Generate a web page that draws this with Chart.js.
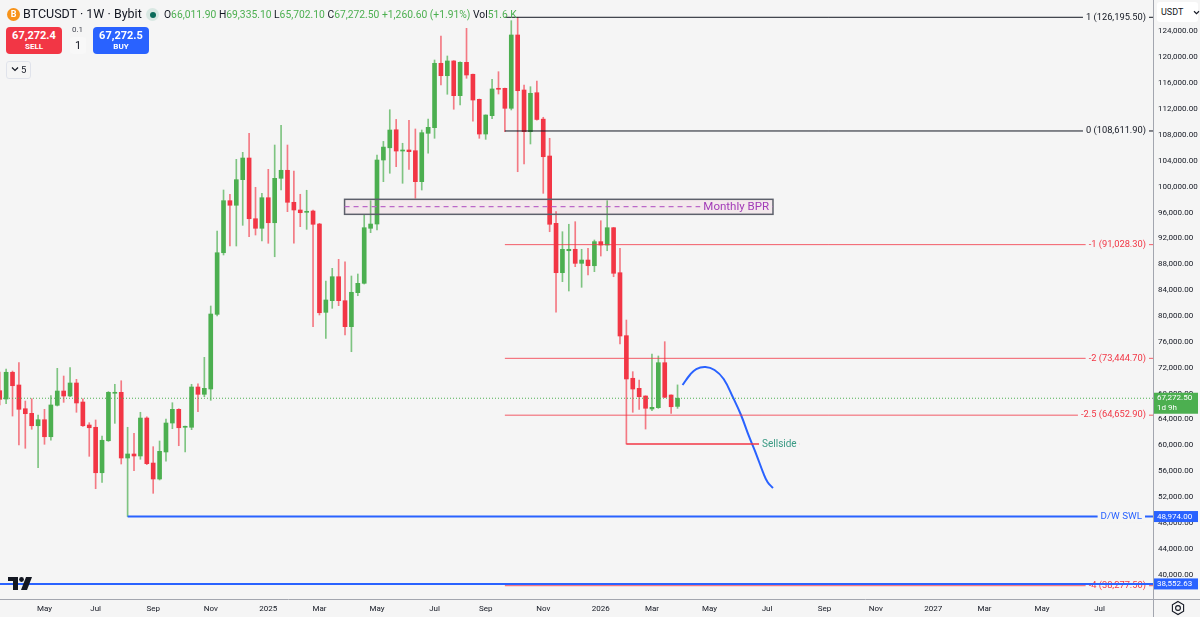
<!DOCTYPE html>
<html>
<head>
<meta charset="utf-8">
<script src="https://cdn.jsdelivr.net/npm/chart.js@4.4.1/dist/chart.umd.min.js"></script>
<style>
html, body { margin: 0; padding: 0; background: #f5f5f5; }
#wrap { position: relative; width: 1200px; height: 617px; font-family: Roboto, "Noto Sans", sans-serif; color: #131722; overflow: hidden; }
#c { position: absolute; left: 0; top: 0; }
.abs { position: absolute; white-space: nowrap; }
.coin { left: 7px; top: 8px; width: 13px; height: 13px; border-radius: 50%; background: #f7931a; color: #fff; font: bold 9px Roboto; text-align: center; line-height: 13px; }
.sym { left: 23px; top: 6px; font-size: 12.5px; }
.live { left: 146px; top: 8px; width: 13px; height: 13px; border-radius: 50%; background: #d9e8e3; }
.live i { position: absolute; left: 3.5px; top: 3.5px; width: 6px; height: 6px; border-radius: 50%; background: #0b6b5a; }
.ohlc { left: 164px; top: 8px; font-size: 10.3px; }
.ohlc b { font-weight: normal; color: #4caf50; }
.btn { top: 27px; width: 56px; height: 27px; border-radius: 4px; color: #fff; text-align: center; font-weight: bold; }
.btn .p { font-size: 11px; margin-top: 3px; line-height: 12px; }
.btn .s { font-size: 8px; line-height: 10px; }
.qty1 { left: 72px; top: 25px; font-size: 8px; color: #434651; }
.qty { left: 70px; top: 37px; width: 16px; height: 17px; border-radius: 3px; background: #f8f8f8; text-align: center; font-size: 11px; line-height: 17px; }
.grp { left: 6px; top: 61px; width: 23px; height: 16px; border: 1px solid #e0e3eb; border-radius: 3px; font-size: 9.5px; line-height: 16px; }
.cur { left: 1157px; top: 2px; width: 41px; height: 20px; background: #fff; border-radius: 3px; font-size: 9px; line-height: 20px; }
</style>
</head>
<body>
<div id="wrap">
  <canvas id="c" width="1200" height="617"></canvas>
  <div class="abs coin">B</div>
  <div class="abs sym">BTCUSDT · 1W · Bybit</div>
  <div class="abs live"><i></i></div>
  <div class="abs ohlc">O<b>66,011.90</b> H<b>69,335.10</b> L<b>65,702.10</b> C<b>67,272.50</b> <b>+1,260.60 (+1.91%)</b> Vol<b>51.6 K</b></div>
  <div class="abs btn" style="left:6px;background:#f23645"><div class="p">67,272.4</div><div class="s">SELL</div></div>
  <div class="abs qty1">0.1</div>
  <div class="abs qty">1</div>
  <div class="abs btn" style="left:93px;background:#2962ff"><div class="p">67,272.5</div><div class="s">BUY</div></div>
  <div class="abs grp"><svg width="8" height="6" style="margin:0 2px 1px 4px" viewBox="0 0 8 6"><path d="M1 1.5 L4 4.5 L7 1.5" fill="none" stroke="#131722" stroke-width="1.2"/></svg>5</div>
  <div class="abs cur"><span style="margin-left:4px">USDT</span><svg width="7" height="5" style="margin-left:10px" viewBox="0 0 8 6"><path d="M1 1.5 L4 4.5 L7 1.5" fill="none" stroke="#131722" stroke-width="1.3"/></svg></div>
  <svg class="abs" style="left:1170px;top:600px" width="16" height="16" viewBox="0 0 16 16"><path d="M8 1.5 L13.6 4.75 L13.6 11.25 L8 14.5 L2.4 11.25 L2.4 4.75 Z" fill="none" stroke="#131722" stroke-width="1.1"/><circle cx="8" cy="8" r="2.4" fill="none" stroke="#131722" stroke-width="1.1"/></svg>
</div>
<script>
// weekly candles, first week starts Monday 2024-03-18
const firstWeek = '2024-03-18';
const opens = [68440,67150,71290,69320,65650,64940,63020,63950,61320,66180,
  68390,67620,69630,66690,63130,62780,55750,60700,68040,68190,
  58030,58650,58340,64210,57250,54780,58960,63440,65560,62780,
  62780,69010,67880,68700,80250,89780,97830,97120,101080,104430,
  95040,93560,98290,94420,101290,102530,97580,96390,96030,96230,
  94220,80560,82360,86070,82360,78340,83600,85050,93560,94220,
  104120,106010,108800,105510,105670,105560,100770,108250,109120,119080,
  117160,119440,114070,119230,117380,113510,108140,110980,115210,115210,
  112120,123460,114950,108500,114530,110440,104740,94330,86690,90090,
  90310,88140,88650,87770,91490,90970,93650,86690,76950,70360,
  68810,67620,65610,65810,72770,67770,66011.9];
const highs = [71330,71790,71480,72770,66840,67200,64680,65560,67670,71900,
  70710,72000,70200,67200,63490,63910,61430,68300,69430,69980,
  62780,61850,65100,64400,59780,60660,64060,66580,65650,62980,
  69430,69520,73600,81540,93140,99480,98820,104230,105310,108250,
  99900,98970,102680,106440,109500,106440,102420,98820,99440,96390,
  94330,85410,87370,88760,88390,86180,86490,95610,97830,104900,
  107000,111900,110400,106710,110250,108920,108760,110440,119590,123300,
  120210,119500,119300,124490,117400,113550,111100,116610,117780,115250,
  125670,126195.5,115720,115460,116340,110730,107480,96130,93030,94180,
  94580,90310,90460,91750,94730,97830,93700,90460,79370,71380,
  70090,67650,74120,73810,76020,67800,69335.1];
const lows = [66230,66430,64520,60040,59530,62470,56530,60150,60770,66070,
  66640,67510,65100,62900,58290,53280,54270,60600,63390,57100,
  48974,56060,57830,57000,52570,54630,57520,62560,59930,58960,
  62410,65190,67510,66950,79990,89430,90820,90820,94020,92260,
  92520,91590,91240,89160,99480,96130,91240,93810,93400,78340,
  80150,76540,81180,81590,77050,74470,83130,84940,92880,93300,
  100770,102070,103090,100520,102680,98200,99480,105160,107480,115720,
  114290,111970,112630,116760,110140,107480,107320,110500,114330,108500,
  111860,102310,103500,106600,110300,98970,93030,80570,85300,83860,
  87620,84430,86330,86850,89270,90090,86070,75660,60190,65100,
  65560,62510,65340,65700,67350,64940,65702.1];
const closes = [67110,71290,69210,65560,64880,63020,63950,61320,66230,68390,
  67620,69630,66540,63020,62710,55750,60770,68190,68190,58030,
  58650,58340,64210,57150,54780,59060,63440,65560,62710,62930,
  69010,67880,68810,80300,89780,97830,97120,101080,104430,95040,
  93560,98290,94420,101290,102530,97580,96390,95970,96190,94180,
  80500,82470,86070,82360,78340,83660,85050,93650,94220,104120,
  106120,108760,105510,105670,105410,100770,108350,109180,119080,117160,
  119440,114070,119230,117270,113400,108140,111080,115110,115060,112120,
  123460,114840,108500,114440,110390,104630,94180,86690,90310,90310,
  88140,88650,87770,91490,90970,93650,86600,76900,70250,68700,
  67510,65720,65870,72770,67420,65960,67272.5];

// fib levels drawn from the Sep 2025 swing
const fibLevels = ['1', '0', '-1', '-2', '-2.5', '-4'];
const fibPrices = [126195.5, 108611.9, 91028.3, 73444.7, 64652.9, 38277.5];
const fibStartWeek = 79;

const swlPrice = 48974, swlStartWeek = 20;
const blueLinePrice = 38552.63;
const lastPrice = 67272.5;
const sellsidePrice = 60190, sellsideStartWeek = 98, sellsideEnd = '2026-08-14', sellsideLabelAt = '2026-07-04';
const bprTop = 98040, bprBottom = 95720, bprMid = 96900, bprStart = '2025-04-03', bprEnd = '2026-07-16';

// projected path
const curveDates = ['2026-04-08','2026-04-16','2026-04-23','2026-05-03','2026-05-13','2026-05-23','2026-06-02',
  '2026-06-11','2026-06-20','2026-06-28','2026-07-05','2026-07-10','2026-07-16'];
const curvePrices = [69320,70870,71790,72100,71640,70250,67460,64680,61280,58490,55860,54320,53390];

const xTickDates = ['2024-05-06','2024-07-01','2024-09-02','2024-11-04','2025-01-06','2025-03-03','2025-05-05',
  '2025-07-07','2025-09-01','2025-11-03','2026-01-05','2026-03-02','2026-05-04','2026-07-06','2026-09-07',
  '2026-11-02','2027-01-04','2027-03-01','2027-05-03','2027-07-05'];
const xTickLabels = ['May','Jul','Sep','Nov','2025','Mar','May','Jul','Sep','Nov','2026','Mar','May','Jul','Sep',
  'Nov','2027','Mar','May','Jul'];
const yTicks = [40000,44000,48000,52000,56000,60000,64000,68000,72000,76000,80000,84000,88000,92000,
  96000,100000,104000,108000,112000,116000,120000,124000];

const GREEN = '#4caf50', RED = '#f23645', BLUE = '#2962ff', BG = '#f5f5f5';
const BPR_FILL = 'rgba(216,27,96,0.055)';

const dayNum = s => (Date.parse(s + 'T00:00:00Z') - Date.UTC(2025, 0, 1)) / 864e5;
const weekMid = opens.map((_, i) => dayNum(firstWeek) + 7 * i + 3.5);
const isUp = opens.map((o, i) => closes[i] >= o);
const X_MIN = -285.2, X_MAX = 977;   // visible time range (days from 2025-01-01)
const Y_MIN = 36220, Y_MAX = 128870;
const fmt = v => v.toLocaleString('en-US', { minimumFractionDigits: 2, maximumFractionDigits: 2 });

function hline(price, from, to, color, width, dash) {
  return {
    type: 'line', data: [{ x: from, y: price }, { x: to, y: price }],
    borderColor: color, borderWidth: width, borderDash: dash || [],
    pointRadius: 0, fill: false, order: 0
  };
}

const datasets = [
  {
    type: 'bar', order: 2, grouped: false, barThickness: 1, minBarLength: 1,
    data: weekMid.map((d, i) => ({ x: d, y: [lows[i], highs[i]] })),
    backgroundColor: isUp.map(u => u ? 'rgba(76,175,80,0.7)' : 'rgba(242,54,69,0.65)')
  },
  {
    type: 'bar', order: 1, grouped: false, barThickness: 4, minBarLength: 1,
    data: weekMid.map((d, i) => ({ x: d, y: [opens[i], closes[i]] })),
    backgroundColor: isUp.map(u => u ? GREEN : RED)
  },
  hline(lastPrice, X_MIN, X_MAX, GREEN, 1, [1, 2]),
  ...fibPrices.map((p, i) => hline(p, weekMid[fibStartWeek], X_MAX, fibLevels[i].startsWith('-') ? 'rgba(242,54,69,0.8)' : '#131722', 1)),
  hline(swlPrice, weekMid[swlStartWeek], X_MAX, BLUE, 2),
  hline(sellsidePrice, weekMid[sellsideStartWeek], dayNum(sellsideEnd), RED, 1.5),
  {
    type: 'line', order: 0, data: curveDates.map((d, i) => ({ x: dayNum(d), y: curvePrices[i] })),
    borderColor: BLUE, borderWidth: 2, pointRadius: 0, fill: false, tension: 0.4
  }
];

function textBox(ctx, text, x, y, align, color, font, bg) {
  ctx.font = font;
  const w = ctx.measureText(text).width;
  const left = align === 'right' ? x - w : x;
  for (const b of bg) { ctx.fillStyle = b; ctx.fillRect(left - 3, y - 6, w + 6, 12); }
  ctx.fillStyle = color;
  ctx.textAlign = 'left';
  ctx.textBaseline = 'middle';
  ctx.fillText(text, left, y);
}

const overlay = {
  id: 'overlay',
  afterDatasetsDraw(chart) {
    const { ctx, chartArea: a, scales: { x, y } } = chart;
    ctx.save();
    ctx.beginPath(); ctx.rect(a.left, a.top, a.width, a.height); ctx.clip();

    // monthly BPR zone
    const bx0 = x.getPixelForValue(dayNum(bprStart)), bx1 = x.getPixelForValue(dayNum(bprEnd));
    const by0 = y.getPixelForValue(bprTop), by1 = y.getPixelForValue(bprBottom);
    ctx.fillStyle = BPR_FILL;
    ctx.fillRect(bx0, by0, bx1 - bx0, by1 - by0);
    ctx.strokeStyle = '#5d606b'; ctx.lineWidth = 1.5;
    ctx.strokeRect(bx0, by0, bx1 - bx0, by1 - by0);
    const my = y.getPixelForValue(bprMid);
    ctx.setLineDash([5, 4]); ctx.strokeStyle = '#ba68c8'; ctx.lineWidth = 1.2;
    ctx.beginPath(); ctx.moveTo(bx0, my); ctx.lineTo(bx1, my); ctx.stroke();
    ctx.setLineDash([]);
    textBox(ctx, 'Monthly BPR', bx1 - 4, my, 'right', '#a23bb8', '11.5px Roboto', [BG, BPR_FILL]);

    // fib labels
    fibPrices.forEach((p, i) => {
      const neg = fibLevels[i].startsWith('-');
      textBox(ctx, fibLevels[i] + ' (' + fmt(p) + ')', a.right - 7, y.getPixelForValue(p), 'right',
        neg ? '#f23645' : '#131722', '9.3px Roboto', [BG]);
    });
    textBox(ctx, 'D/W SWL', a.right - 11, y.getPixelForValue(swlPrice), 'right', BLUE, '9.8px Roboto', [BG]);
    textBox(ctx, 'Sellside', x.getPixelForValue(dayNum(sellsideLabelAt)), y.getPixelForValue(sellsidePrice), 'left',
      '#3a9a84', '10px Roboto', [BG]);

    // full-width blue level, drawn over the labels
    const ly = y.getPixelForValue(blueLinePrice);
    ctx.strokeStyle = BLUE; ctx.lineWidth = 2;
    ctx.beginPath(); ctx.moveTo(a.left, ly); ctx.lineTo(a.right, ly); ctx.stroke();
    ctx.restore();
  },
  afterDraw(chart) {
    const { ctx, chartArea: a, scales: { y } } = chart;
    ctx.save();
    // axis frame extensions
    ctx.strokeStyle = '#a3a6af'; ctx.lineWidth = 1;
    ctx.beginPath(); ctx.moveTo(a.right + 0.5, a.bottom); ctx.lineTo(a.right + 0.5, 617); ctx.stroke();
    ctx.beginPath(); ctx.moveTo(a.right, a.bottom + 0.5); ctx.lineTo(1200, a.bottom + 0.5); ctx.stroke();

    // price tags
    ctx.font = '8px Roboto'; ctx.textBaseline = 'middle'; ctx.textAlign = 'left';
    const tag = (price, color, h, lines) => {
      const py = y.getPixelForValue(price);
      ctx.fillStyle = color;
      ctx.fillRect(a.right + 1, py - 5.5, 44, h);
      ctx.fillStyle = '#fff';
      lines.forEach((t, k) => ctx.fillText(t, a.right + 4, py + k * 10));
    };
    tag(lastPrice, GREEN, 21, [fmt(lastPrice), '1d 9h']);
    tag(swlPrice, BLUE, 11, [fmt(swlPrice)]);
    tag(blueLinePrice, BLUE, 11, [fmt(blueLinePrice)]);

    // TradingView mark
    ctx.fillStyle = '#131722';
    ctx.fillRect(8, 577, 10, 4);
    ctx.fillRect(13, 577, 5, 13);
    ctx.beginPath(); ctx.arc(21.5, 579.5, 2.4, 0, Math.PI * 2); ctx.fill();
    ctx.beginPath(); ctx.moveTo(26, 577); ctx.lineTo(32, 577); ctx.lineTo(27, 590); ctx.lineTo(21, 590); ctx.closePath(); ctx.fill();
    ctx.restore();
  }
};

new Chart(document.getElementById('c'), {
  type: 'bar',
  data: { datasets },
  options: {
    responsive: false,
    animation: false,
    devicePixelRatio: 1,
    layout: { padding: 0 },
    plugins: { legend: { display: false }, tooltip: { enabled: false } },
    scales: {
      x: {
        type: 'linear', min: X_MIN, max: X_MAX, offset: false,
        grid: { display: false, drawTicks: false, offset: false },
        border: { color: '#a3a6af', width: 1 },
        ticks: {
          autoSkip: false, maxRotation: 0, padding: 5, color: '#131722',
          font: { family: 'Roboto', size: 8 },
          callback: (v, i) => xTickLabels[i]
        },
        afterBuildTicks: s => { s.ticks = xTickDates.map(d => ({ value: dayNum(d) + 3.5 })); },
        afterFit: s => { s.height = 18; s.paddingLeft = 0; s.paddingRight = 0; }
      },
      y: {
        position: 'right', min: Y_MIN, max: Y_MAX,
        grid: { display: false, drawTicks: false },
        border: { color: '#a3a6af', width: 1 },
        ticks: {
          padding: 5, color: '#131722', font: { family: 'Roboto', size: 8 },
          callback: v => fmt(v)
        },
        afterBuildTicks: s => { s.ticks = yTicks.map(v => ({ value: v })); },
        afterFit: s => { s.width = 47; s.paddingTop = 0; s.paddingBottom = 0; }
      }
    }
  },
  plugins: [overlay]
});
</script>
</body>
</html>
